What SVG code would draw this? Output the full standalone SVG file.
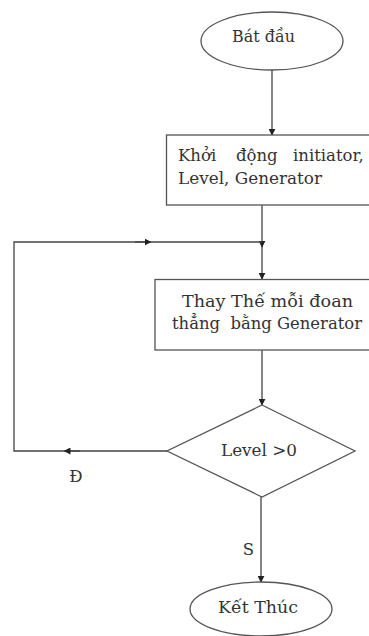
<svg xmlns="http://www.w3.org/2000/svg" width="369" height="636" viewBox="0 0 369 636">
<style>
.s{fill:#fff;stroke:#555;stroke-width:1.3}
.c{fill:none;stroke:#444;stroke-width:1.3}
text{font-family:'DejaVu Serif','Liberation Serif',serif;font-size:16.5px;fill:#333}
</style>
<defs>
<marker id="a" viewBox="0 0 10 10" refX="9" refY="5" markerWidth="7" markerHeight="7" markerUnits="userSpaceOnUse" orient="auto"><path d="M0,0L10,5L0,10z" fill="#222"/></marker>
<marker id="m" viewBox="0 0 10 10" refX="5" refY="5" markerWidth="7" markerHeight="7" markerUnits="userSpaceOnUse" orient="auto"><path d="M0,0L10,5L0,10z" fill="#222"/></marker>
</defs>
<g id="connectors">
<line class="c" x1="272" y1="70" x2="272" y2="135" marker-end="url(#a)"/>
<line class="c" x1="262" y1="205" x2="262" y2="247" marker-end="url(#a)"/>
<line class="c" x1="262" y1="246" x2="262" y2="279" marker-end="url(#a)"/>
<line class="c" x1="262" y1="350" x2="262" y2="405" marker-end="url(#a)"/>
<polyline class="c" points="167,451 14,451 14,242 262,242"/>
<line class="c" x1="80" y1="451" x2="67" y2="451" marker-end="url(#m)"/>
<line class="c" x1="135" y1="242" x2="148" y2="242" marker-end="url(#m)"/>
<line class="c" x1="261" y1="497" x2="261" y2="582" marker-end="url(#a)"/>
<text x="76" y="482" text-anchor="middle">Đ</text>
<text x="248.5" y="555" text-anchor="middle">S</text>
</g>
<g id="start">
<ellipse class="s" cx="272" cy="41" rx="71" ry="29"/>
<text x="232" y="42" textLength="63" lengthAdjust="spacingAndGlyphs">Bát đầu</text>
</g>
<g id="init">
<rect class="s" x="166.5" y="135" width="210" height="70"/>
<text y="161"><tspan x="178">Khởi</tspan> <tspan x="236">động</tspan> <tspan x="293">initiator,</tspan></text>
<text x="178" y="184" textLength="144" lengthAdjust="spacingAndGlyphs">Level, Generator</text>
</g>
<g id="replace">
<rect class="s" x="155" y="279.5" width="220" height="70.5"/>
<text x="182" y="306.5" textLength="171" lengthAdjust="spacingAndGlyphs">Thay Thế mỗi đoan</text>
<text x="172" y="328.5" textLength="190" lengthAdjust="spacingAndGlyphs" xml:space="preserve">thẳng  bằng Generator</text>
</g>
<g id="decision">
<polygon class="s" points="262,405 355,451 262,497 167,451"/>
<text x="221" y="456" textLength="76" lengthAdjust="spacingAndGlyphs">Level &gt;0</text>
</g>
<g id="end">
<ellipse class="s" cx="261" cy="609" rx="71" ry="27"/>
<text x="218" y="613" textLength="80" lengthAdjust="spacingAndGlyphs">Kết Thúc</text>
</g>
</svg>
